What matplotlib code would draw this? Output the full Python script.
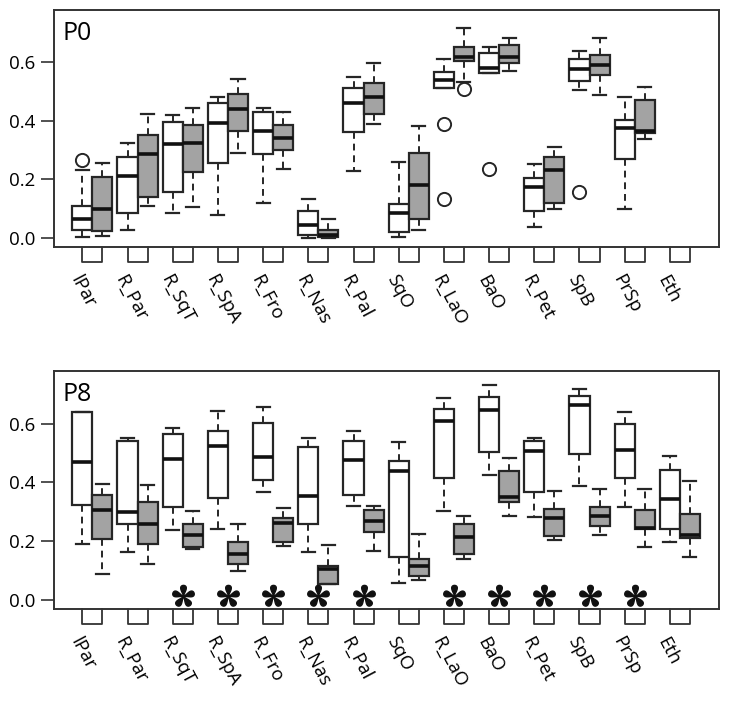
import numpy as np
import matplotlib
matplotlib.use("Agg")
import matplotlib.pyplot as plt
import matplotlib.transforms as mtransforms
from matplotlib.path import Path

plt.rcParams['font.family'] = ['Open Sans', 'DejaVu Sans']

categories = ['lPar', 'R_Par', 'R_SqT', 'R_SpA', 'R_Fro', 'R_Nas', 'R_Pal',
              'SqO', 'R_LaO', 'BaO', 'R_Pet', 'SpB', 'PrSp', 'Eth']

# P0 panel (no data for Eth)
p0_white_lo = [0.003, 0.025, 0.085, 0.078, 0.119, -0.002, 0.23, 0.001, 0.514, 0.564, 0.036, 0.507, 0.10]
p0_white_q1 = [0.028, 0.083, 0.157, 0.256, 0.285, 0.009, 0.3625, 0.019, 0.514, 0.564, 0.091, 0.535, 0.27]
p0_white_med = [0.0625, 0.21, 0.322, 0.393, 0.367, 0.045, 0.4625, 0.083, 0.539, 0.581, 0.174, 0.577, 0.375]
p0_white_q3 = [0.107, 0.276, 0.395, 0.46, 0.43, 0.092, 0.511, 0.115, 0.567, 0.631, 0.203, 0.6125, 0.402]
p0_white_hi = [0.231, 0.323, 0.419, 0.481, 0.443, 0.133, 0.55, 0.26, 0.6125, 0.653, 0.251, 0.639, 0.482]
p0_white_out = [[0.265], [], [], [], [], [], [], [], [0.389, 0.134], [0.234], [], [0.157], []]

p0_gray_lo = [0.007, 0.110, 0.106, 0.290, 0.234, 0.0, 0.389, 0.025, 0.534, 0.572, 0.099, 0.489, 0.339]
p0_gray_q1 = [0.023, 0.139, 0.225, 0.366, 0.30, 0.002, 0.425, 0.0625, 0.605, 0.598, 0.118, 0.557, 0.357]
p0_gray_med = [0.098, 0.286, 0.324, 0.439, 0.341, 0.011, 0.48, 0.182, 0.619, 0.619, 0.231, 0.592, 0.367]
p0_gray_q3 = [0.207, 0.35, 0.3875, 0.491, 0.386, 0.028, 0.528, 0.29, 0.652, 0.659, 0.276, 0.624, 0.472]
p0_gray_hi = [0.256, 0.425, 0.443, 0.544, 0.432, 0.065, 0.599, 0.381, 0.718, 0.682, 0.309, 0.683, 0.516]
p0_gray_out = [[], [], [], [], [], [], [], [], [0.508], [], [], [], []]

# P8 panel
p8_white_lo = [0.189, 0.163, 0.238, 0.241, 0.366, 0.161, 0.319, 0.057, 0.301, 0.424, 0.283, 0.388, 0.316, 0.195]
p8_white_q1 = [0.324, 0.258, 0.316, 0.347, 0.407, 0.257, 0.358, 0.145, 0.414, 0.505, 0.366, 0.498, 0.414, 0.24]
p8_white_med = [0.469, 0.30, 0.481, 0.525, 0.488, 0.354, 0.477, 0.438, 0.611, 0.648, 0.508, 0.663, 0.509, 0.342]
p8_white_q3 = [0.639, 0.541, 0.566, 0.575, 0.603, 0.519, 0.54, 0.472, 0.649, 0.691, 0.54, 0.696, 0.598, 0.441]
p8_white_hi = [0.64, 0.553, 0.585, 0.643, 0.658, 0.553, 0.574, 0.537, 0.689, 0.731, 0.553, 0.719, 0.641, 0.49]

p8_gray_lo = [0.087, 0.121, 0.173, 0.099, 0.184, 0.054, 0.165, 0.067, 0.137, 0.286, 0.202, 0.22, 0.179, 0.144]
p8_gray_q1 = [0.206, 0.189, 0.18, 0.123, 0.195, 0.054, 0.229, 0.079, 0.154, 0.333, 0.218, 0.251, 0.24, 0.21]
p8_gray_med = [0.306, 0.258, 0.221, 0.156, 0.261, 0.103, 0.267, 0.115, 0.212, 0.351, 0.278, 0.286, 0.243, 0.221]
p8_gray_q3 = [0.357, 0.332, 0.259, 0.196, 0.278, 0.115, 0.307, 0.137, 0.257, 0.439, 0.31, 0.317, 0.306, 0.293]
p8_gray_hi = [0.394, 0.391, 0.302, 0.258, 0.311, 0.186, 0.319, 0.225, 0.285, 0.484, 0.37, 0.378, 0.378, 0.404]

# categories marked with an asterisk in P8
p8_signif = [2, 3, 4, 5, 6, 8, 9, 10, 11, 12]

yticks = [0.0, 0.2, 0.4, 0.6]

off = 0.222
bw = 0.444
edge = '#262626'


def petal_marker():
    # five teardrop petals, one pointing up
    t = np.linspace(0, np.pi, 30)
    along = (1 - np.cos(t)) / 2
    half = 0.40 * np.sin(t) * along ** 1.1
    px = np.concatenate([along, along[::-1]])
    py = np.concatenate([half, -half[::-1]])
    verts, codes = [], []
    for k in range(5):
        a = np.pi / 2 + k * 2 * np.pi / 5
        x = px * np.cos(a) - py * np.sin(a)
        y = px * np.sin(a) + py * np.cos(a)
        pts = list(zip(x, y))
        verts += pts + [pts[0]]
        codes += [Path.MOVETO] + [Path.LINETO] * (len(pts) - 1) + [Path.CLOSEPOLY]
    return Path(verts, codes)


star = petal_marker()


def stats(lo, q1, med, q3, hi, out=None):
    res = []
    for i in range(len(med)):
        res.append(dict(whislo=lo[i], q1=q1[i], med=med[i], q3=q3[i], whishi=hi[i],
                        fliers=out[i] if out else []))
    return res


def draw(ax, white, gray, label, signif=()):
    n = len(categories)
    xw = np.arange(len(white)) - off
    xg = np.arange(len(gray)) + off
    common = dict(widths=bw, capwidths=bw * 0.65, patch_artist=True, showfliers=True,
                  whiskerprops=dict(color=edge, lw=1.4, linestyle=(0, (3.5, 2.5))),
                  capprops=dict(color=edge, lw=1.6),
                  medianprops=dict(color='#111111', lw=2.6),
                  flierprops=dict(marker='o', markerfacecolor='none', markeredgecolor=edge,
                                  markersize=9.5, markeredgewidth=1.4))
    ax.bxp(white, positions=xw, boxprops=dict(facecolor='white', edgecolor=edge, lw=1.6), **common)
    ax.bxp(gray, positions=xg, boxprops=dict(facecolor='#a3a3a3', edgecolor=edge, lw=1.6), **common)

    ax.set_xlim(-0.85, n - 0.14)
    ax.set_ylim(-0.032, 0.78)
    ax.set_yticks(yticks)
    ax.set_yticklabels(['%.1f' % v for v in yticks])
    ax.set_xticks([])
    ax.tick_params(axis='y', length=9.5, width=1.2, labelsize=13.5, color='#333333', pad=4)
    for s in ax.spines.values():
        s.set_linewidth(1.4)
        s.set_color('#333333')

    # small open squares under each category
    trans = mtransforms.blended_transform_factory(ax.transData, ax.transAxes)
    for i in range(n):
        ax.plot([i - off, i - off, i + off, i + off], [0, -0.062, -0.062, 0],
                color='#333333', lw=1.3, transform=trans, clip_on=False)
        ax.text(i - off, -0.105, categories[i], transform=trans, rotation=-62,
                rotation_mode='anchor', ha='left', va='top', fontsize=13.5)

    if len(signif):
        ax.plot(signif, [0.014] * len(signif), linestyle='none', marker=star,
                markersize=16, color='#111111')

    ax.text(0.013, 0.9, label, transform=ax.transAxes, fontsize=18, ha='left', va='center')


fig = plt.figure(figsize=(7.29, 7.02), dpi=100)
ax0 = fig.add_axes([0.074, 0.648, 0.912, 0.338])
ax1 = fig.add_axes([0.074, 0.1325, 0.912, 0.339])

draw(ax0,
     stats(p0_white_lo, p0_white_q1, p0_white_med, p0_white_q3, p0_white_hi, p0_white_out),
     stats(p0_gray_lo, p0_gray_q1, p0_gray_med, p0_gray_q3, p0_gray_hi, p0_gray_out),
     'P0')
draw(ax1,
     stats(p8_white_lo, p8_white_q1, p8_white_med, p8_white_q3, p8_white_hi),
     stats(p8_gray_lo, p8_gray_q1, p8_gray_med, p8_gray_q3, p8_gray_hi),
     'P8', p8_signif)

fig.savefig('out.png', dpi=100)
